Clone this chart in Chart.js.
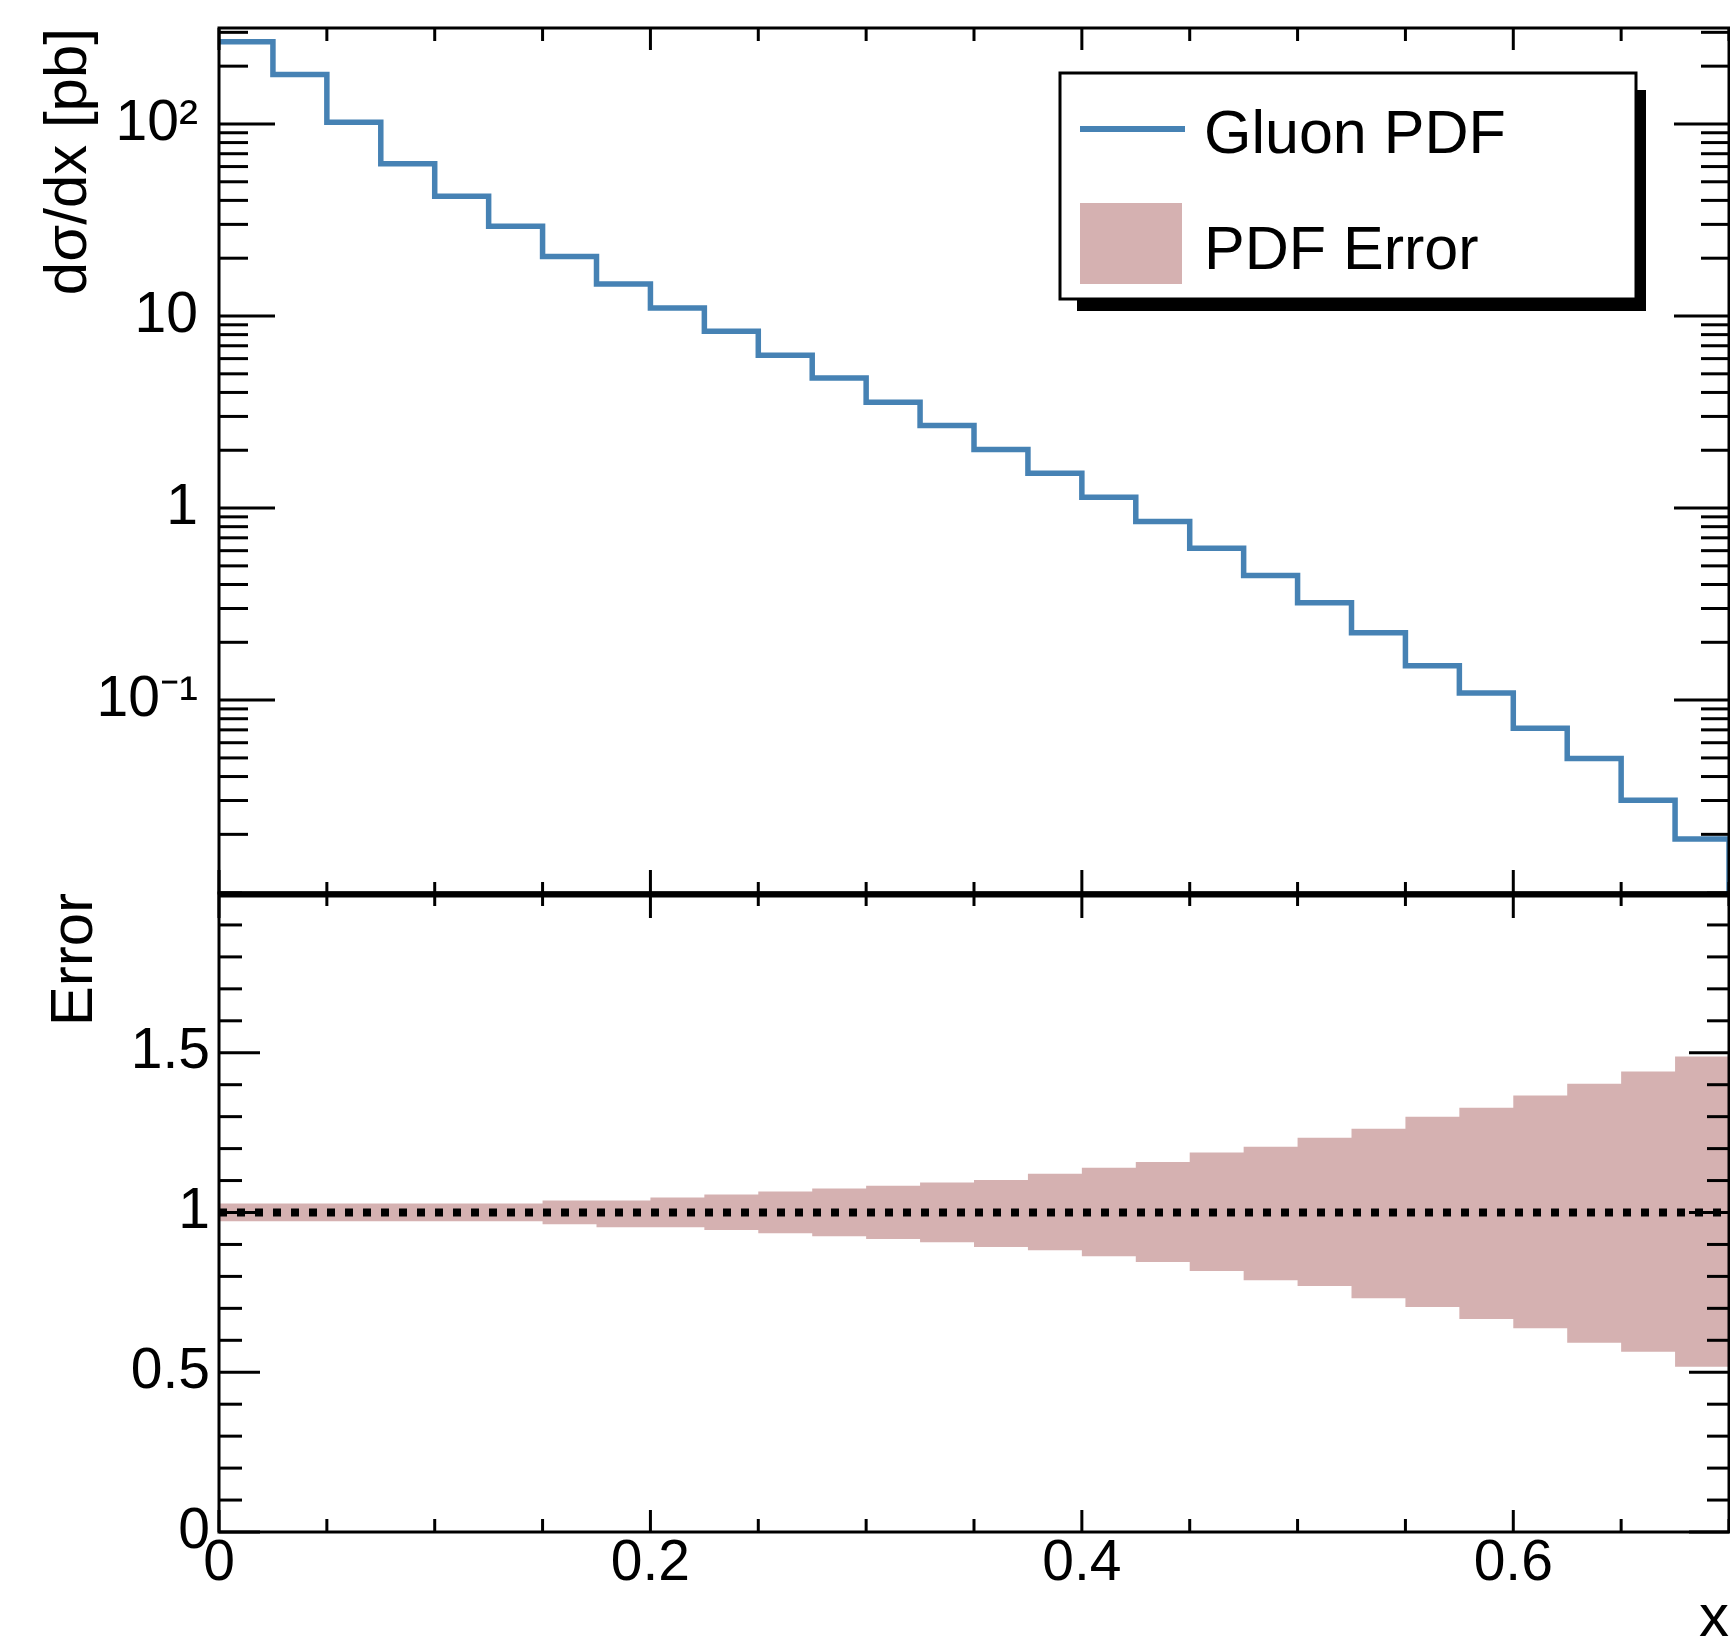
<!DOCTYPE html>
<html>
<head>
<meta charset="utf-8">
<script src="https://cdn.jsdelivr.net/npm/chart.js@4.4.1/dist/chart.umd.min.js"></script>
<style>
  html, body { margin: 0; padding: 0; background: #fff; overflow: hidden; }
  #wrap { position: relative; width: 1730px; height: 1636px; overflow: hidden; }
  #topBox { position: absolute; left: 0; top: 0; width: 1730px; height: 900px; }
  #botBox { position: absolute; left: 0; top: 860px; width: 1730px; height: 810px; }
</style>
</head>
<body>
<div id="wrap">
  <div id="topBox"><canvas id="pdfChart" width="1730" height="900"></canvas></div>
  <div id="botBox"><canvas id="errChart" width="1730" height="810"></canvas></div>
</div>
<script>
// histogram bins (x edges)
const binEdges = [0, 0.025, 0.05, 0.075, 0.1, 0.125, 0.15, 0.175, 0.2, 0.225, 0.25, 0.275, 0.3, 0.325,
    0.35, 0.375, 0.4, 0.425, 0.45, 0.475, 0.5, 0.525, 0.55, 0.575, 0.6, 0.625, 0.65, 0.675, 0.7];

// dsigma/dx per bin [pb]
const gluonPdf = [268, 181, 102, 62.1, 42.0, 29.3, 20.4, 14.7, 11.0, 8.32, 6.24, 4.75, 3.56, 2.69,
    2.02, 1.52, 1.14, 0.851, 0.617, 0.445, 0.321, 0.224, 0.151, 0.109, 0.0714, 0.0497, 0.0301, 0.0189];

// relative PDF error band
const errUp = [1.028, 1.028, 1.028, 1.028, 1.028, 1.028, 1.0375, 1.0375, 1.047, 1.056, 1.066, 1.075, 1.084, 1.094,
    1.102, 1.121, 1.140, 1.158, 1.1875, 1.206, 1.234, 1.2625, 1.300, 1.328, 1.366, 1.403, 1.441, 1.488];
const errDown = [0.973, 0.973, 0.973, 0.973, 0.973, 0.973, 0.963, 0.954, 0.954, 0.945, 0.935, 0.926, 0.917, 0.907,
    0.892, 0.882, 0.863, 0.845, 0.817, 0.788, 0.770, 0.732, 0.704, 0.667, 0.638, 0.592, 0.564, 0.517];
const refLine = [1, 1];

const xTickValues = [0, 0.2, 0.4, 0.6];
const xTickLabels = ['0', '0.2', '0.4', '0.6'];
const topTickValues = [0.1, 1, 10, 100];
const topTickLabels = ['10\u207B\u00B9', '1', '10', '10\u00B2'];
const errTickValues = [0, 0.5, 1, 1.5];
const errTickLabels = ['0', '0.5', '1', '1.5'];
const legendLabels = ['Gluon PDF', 'PDF Error'];

const xMin = 0, xMax = 0.7;
const topMin = 0.0099, topMax = 316;
const errMin = 0, errMax = 2;

const FONT = '"Liberation Sans", Arial, Helvetica, sans-serif';
const lineBlue = 'rgb(70,130,180)';
const bandColor = 'rgb(213,177,177)';

function near(a, b) { return Math.abs(a - b) < 1e-6 * Math.max(1, Math.abs(b)); }

function labelFor(values, labels) {
    return v => {
        const i = values.findIndex(t => near(v, t));
        return i < 0 ? '' : labels[i];
    };
}

// one point per bin edge, last bin repeated to close the step
function stepPoints(vals) {
    const pts = vals.map((v, i) => ({ x: binEdges[i], y: v }));
    pts.push({ x: binEdges[binEdges.length - 1], y: vals[vals.length - 1] });
    return pts;
}

function logKind(v) {
    if (v < topMin || v > topMax) return 0;
    const e = Math.floor(Math.log10(v) + 1e-9);
    const s = v / Math.pow(10, e);
    if (Math.abs(s - Math.round(s)) > 1e-6) return 0;
    return Math.round(s) === 1 ? 2 : 1;
}
function xKind(v) {
    return Math.abs(v / 0.2 - Math.round(v / 0.2)) < 1e-6 ? 2 : 1;
}
function errKind(v) {
    return errTickValues.some(t => near(v, t)) ? 2 : 1;
}

// keep the plot area exactly where the layout padding puts it
function fixY(s) { s.width = 219; s.paddingTop = 0; s.paddingBottom = 0; }
function fixX(h) { return s => { s.height = h; s.paddingLeft = 0; s.paddingRight = 0; }; }

// ROOT style frame: inward ticks on all four sides
function framePlugin(o) {
    return {
        id: 'rootFrame',
        afterDatasetsDraw(chart) {
            const { ctx, chartArea: a, scales } = chart;
            const x = scales.x, y = scales.y;
            ctx.save();
            ctx.strokeStyle = '#000';
            ctx.lineWidth = 3;
            ctx.lineCap = 'butt';
            const seg = (x1, y1, x2, y2) => { ctx.beginPath(); ctx.moveTo(x1, y1); ctx.lineTo(x2, y2); ctx.stroke(); };
            y.ticks.forEach(t => {
                const k = o.yKind(t.value);
                if (!k) return;
                const py = y.getPixelForValue(t.value);
                const len = k === 2 ? o.yMajor : o.yMinor;
                seg(a.left, py, a.left + len, py);
                seg(a.right, py, a.right - len + 1, py);
            });
            x.ticks.forEach(t => {
                const k = xKind(t.value);
                const px = x.getPixelForValue(t.value);
                seg(px, a.top, px, a.top + (k === 2 ? o.xTopMajor : o.xTopMinor));
                seg(px, a.bottom, px, a.bottom - (k === 2 ? o.xBotMajor : o.xBotMinor));
            });
            ctx.strokeRect(a.left, a.top, a.right - a.left, a.bottom - a.top);
            if (o.thickBottom) {
                ctx.lineWidth = 6;
                seg(a.left, a.bottom + 1.5, a.right, a.bottom + 1.5);
            }
            ctx.restore();
        }
    };
}

const legendBox = {
    id: 'rootLegend',
    afterDraw(chart) {
        const { ctx } = chart;
        ctx.save();
        ctx.fillStyle = '#000';
        ctx.fillRect(1077, 90, 569, 221);
        ctx.fillStyle = '#fff';
        ctx.fillRect(1060, 73, 576, 226);
        ctx.strokeStyle = '#000';
        ctx.lineWidth = 3;
        ctx.strokeRect(1060, 73, 576, 226);
        ctx.strokeStyle = lineBlue;
        ctx.lineWidth = 6;
        ctx.beginPath(); ctx.moveTo(1080, 129); ctx.lineTo(1185, 129); ctx.stroke();
        ctx.fillStyle = bandColor;
        ctx.fillRect(1080, 203, 102, 81);
        ctx.fillStyle = '#000';
        ctx.font = '61px ' + FONT;
        ctx.textBaseline = 'middle';
        ctx.textAlign = 'left';
        ctx.fillText(legendLabels[0], 1204, 136);
        ctx.fillText(legendLabels[1], 1204, 252);
        ctx.restore();
    }
};

const tickFont = { family: FONT, size: 57, lineHeight: 1 };
const titleFont = { family: FONT, size: 60, lineHeight: 1 };

new Chart(document.getElementById('pdfChart'), {
    type: 'line',
    data: {
        datasets: [{
            label: legendLabels[0],
            data: stepPoints(gluonPdf).concat([{ x: xMax, y: topMin }]),
            borderColor: lineBlue,
            borderWidth: 5.5,
            borderJoinStyle: 'miter',
            stepped: 'before',
            pointRadius: 0,
            fill: false
        }]
    },
    options: {
        responsive: false,
        animation: false,
        events: [],
        layout: { padding: { top: 28, right: 1, bottom: 7, left: 0 } },
        plugins: { legend: { display: false }, tooltip: { enabled: false } },
        scales: {
            x: {
                type: 'linear', min: xMin, max: xMax,
                ticks: { display: false, stepSize: 0.05 },
                grid: { display: false, drawTicks: false },
                border: { display: false },
                afterFit: fixX(0)
            },
            y: {
                type: 'logarithmic', min: topMin, max: topMax,
                ticks: {
                    autoSkip: false, padding: 21, color: '#000', font: tickFont,
                    callback: labelFor(topTickValues, topTickLabels)
                },
                grid: { display: false, drawTicks: false },
                border: { display: false },
                title: { display: true, text: 'd\u03C3/dx [pb]', align: 'end', color: '#000', font: titleFont, padding: { top: 39, bottom: 0 } },
                afterFit: fixY
            }
        }
    },
    plugins: [framePlugin({ yKind: logKind, yMajor: 56, yMinor: 29, xTopMajor: 22, xTopMinor: 13, xBotMajor: 23, xBotMinor: 11, thickBottom: true }), legendBox]
});

new Chart(document.getElementById('errChart'), {
    type: 'line',
    data: {
        datasets: [{
            label: 'ref',
            data: [{ x: xMin, y: refLine[0] }, { x: xMax, y: refLine[1] }],
            borderColor: '#000',
            borderWidth: 8,
            borderDash: [8, 10],
            pointRadius: 0,
            fill: false
        }, {
            label: legendLabels[1],
            data: stepPoints(errUp),
            borderWidth: 0,
            borderColor: bandColor,
            backgroundColor: bandColor,
            stepped: 'before',
            pointRadius: 0,
            fill: '+1'
        }, {
            label: 'down',
            data: stepPoints(errDown),
            borderWidth: 0,
            borderColor: bandColor,
            stepped: 'before',
            pointRadius: 0,
            fill: false
        }]
    },
    options: {
        responsive: false,
        animation: false,
        events: [],
        layout: { padding: { top: 33, right: 1, bottom: 0, left: 0 } },
        plugins: { legend: { display: false }, tooltip: { enabled: false } },
        scales: {
            x: {
                type: 'linear', min: xMin, max: xMax,
                ticks: {
                    autoSkip: false, stepSize: 0.05, padding: 4, maxRotation: 0, color: '#000', font: tickFont,
                    callback: labelFor(xTickValues, xTickLabels)
                },
                grid: { display: false, drawTicks: false },
                border: { display: false },
                title: { display: true, text: 'x', align: 'end', color: '#000', font: titleFont, padding: { top: 0, bottom: 21 } },
                afterFit: fixX(138)
            },
            y: {
                type: 'linear', min: errMin, max: errMax,
                ticks: {
                    autoSkip: false, stepSize: 0.1, padding: 9, color: '#000', font: tickFont,
                    callback: labelFor(errTickValues, errTickLabels)
                },
                grid: { display: false, drawTicks: false },
                border: { display: false },
                title: { display: true, text: 'Error', align: 'end', color: '#000', font: titleFont, padding: { top: 45, bottom: 0 } },
                afterFit: fixY
            }
        }
    },
    plugins: [framePlugin({ yKind: errKind, yMajor: 41, yMinor: 23, xTopMajor: 25, xTopMinor: 13, xBotMajor: 22, xBotMinor: 13 })]
});
</script>
</body>
</html>
